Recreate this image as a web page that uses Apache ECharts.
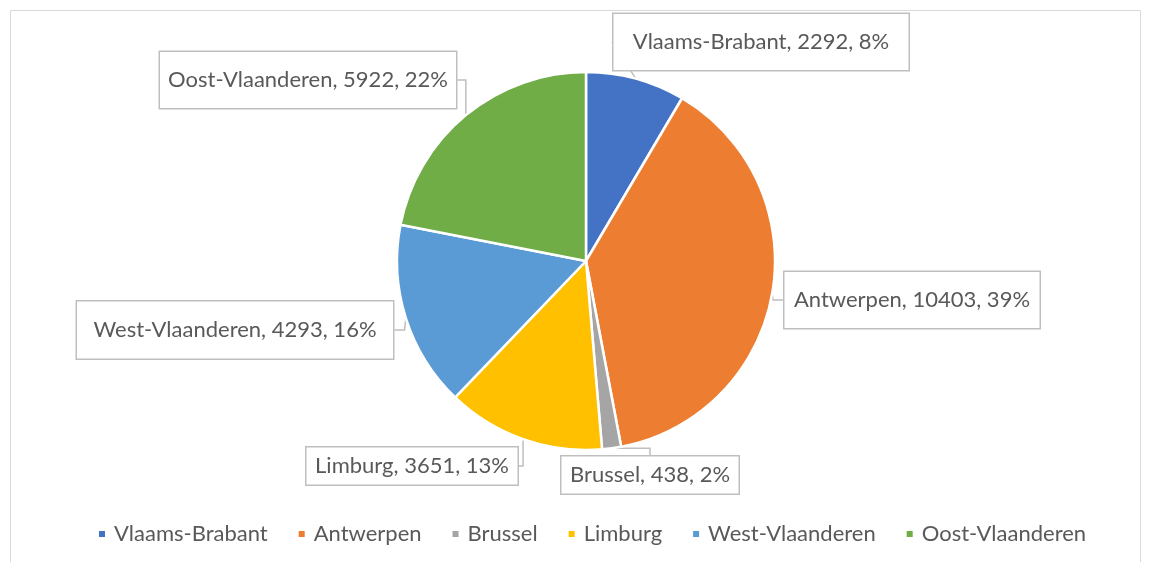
<!DOCTYPE html>
<html>
<head>
<meta charset="utf-8">
<script src="https://cdn.jsdelivr.net/npm/echarts@6/dist/echarts.min.js"></script>
<style>
  html, body { margin: 0; padding: 0; background: #fff; }
  #chart { width: 1152px; height: 562px; }
</style>
</head>
<body>
<div id="chart"></div>
<script>
// provincies en aantallen
const regions = ["Vlaams-Brabant", "Antwerpen", "Brussel", "Limburg", "West-Vlaanderen", "Oost-Vlaanderen"];
const counts = [2292, 10403, 438, 3651, 4293, 5922];
const colors = ["#4472C4", "#ED7D31", "#A5A5A5", "#FFC000", "#5B9BD5", "#70AD47"];

// callout boxes: center x/y, box width/height (layout only)
const callouts = [
  { x: 761, y: 42, w: 295, h: 56 },
  { x: 912, y: 300, w: 255, h: 56 },
  { x: 650, y: 475, w: 177, h: 37 },
  { x: 412, y: 466, w: 211, h: 37 },
  { x: 235, y: 330, w: 316, h: 57 },
  { x: 308, y: 80, w: 296, h: 56 },
];

const FONT = "Lato";
const FS = 22;
const LH = 24;

const chart = echarts.init(document.getElementById("chart"));

const pieData = regions.map((name, i) => {
  const c = callouts[i];
  const padV = (c.h - LH) / 2;
  return {
    name: name,
    value: counts[i],
    itemStyle: { color: colors[i] },
    label: {
      width: c.w - 16,
      overflow: "none",
      padding: [padV, 8, padV, 8],
    },
  };
});

chart.setOption({
  animation: false,
  graphic: [
    {
      type: "rect",
      shape: { x: 10.5, y: 10.5, width: 1130, height: 600 },
      style: { fill: "none", stroke: "#d9d9d9", lineWidth: 1 },
      silent: true,
      z: -1,
    },
  ],
  legend: {
    data: regions,
    bottom: 12,
    left: 92,
    icon: "rect",
    itemWidth: 8,
    itemHeight: 8,
    itemGap: 29,
    textStyle: {
      fontFamily: FONT,
      fontSize: FS,
      color: "#595959",
      padding: [0, 0, 0, 3],
    },
  },
  series: [
    {
      type: "pie",
      center: [586, 261],
      radius: 189,
      startAngle: 90,
      clockwise: true,
      percentPrecision: 0,
      itemStyle: { borderColor: "#fff", borderWidth: 2.5 },
      label: {
        show: true,
        formatter: "{b}, {c}, {d}%",
        fontFamily: FONT,
        fontSize: FS,
        lineHeight: LH,
        color: "#595959",
        align: "center",
        backgroundColor: "#fff",
        borderColor: "#bfbfbf",
        borderWidth: 1.5,
      },
      labelLine: {
        show: true,
        length: 10,
        length2: 10,
        lineStyle: { color: "#bfbfbf", width: 1.5 },
      },
      labelLayout: function (params) {
        const c = callouts[params.dataIndex];
        return { x: c.x, y: c.y, align: "center", verticalAlign: "middle" };
      },
      data: pieData,
    },
  ],
});
</script>
</body>
</html>
